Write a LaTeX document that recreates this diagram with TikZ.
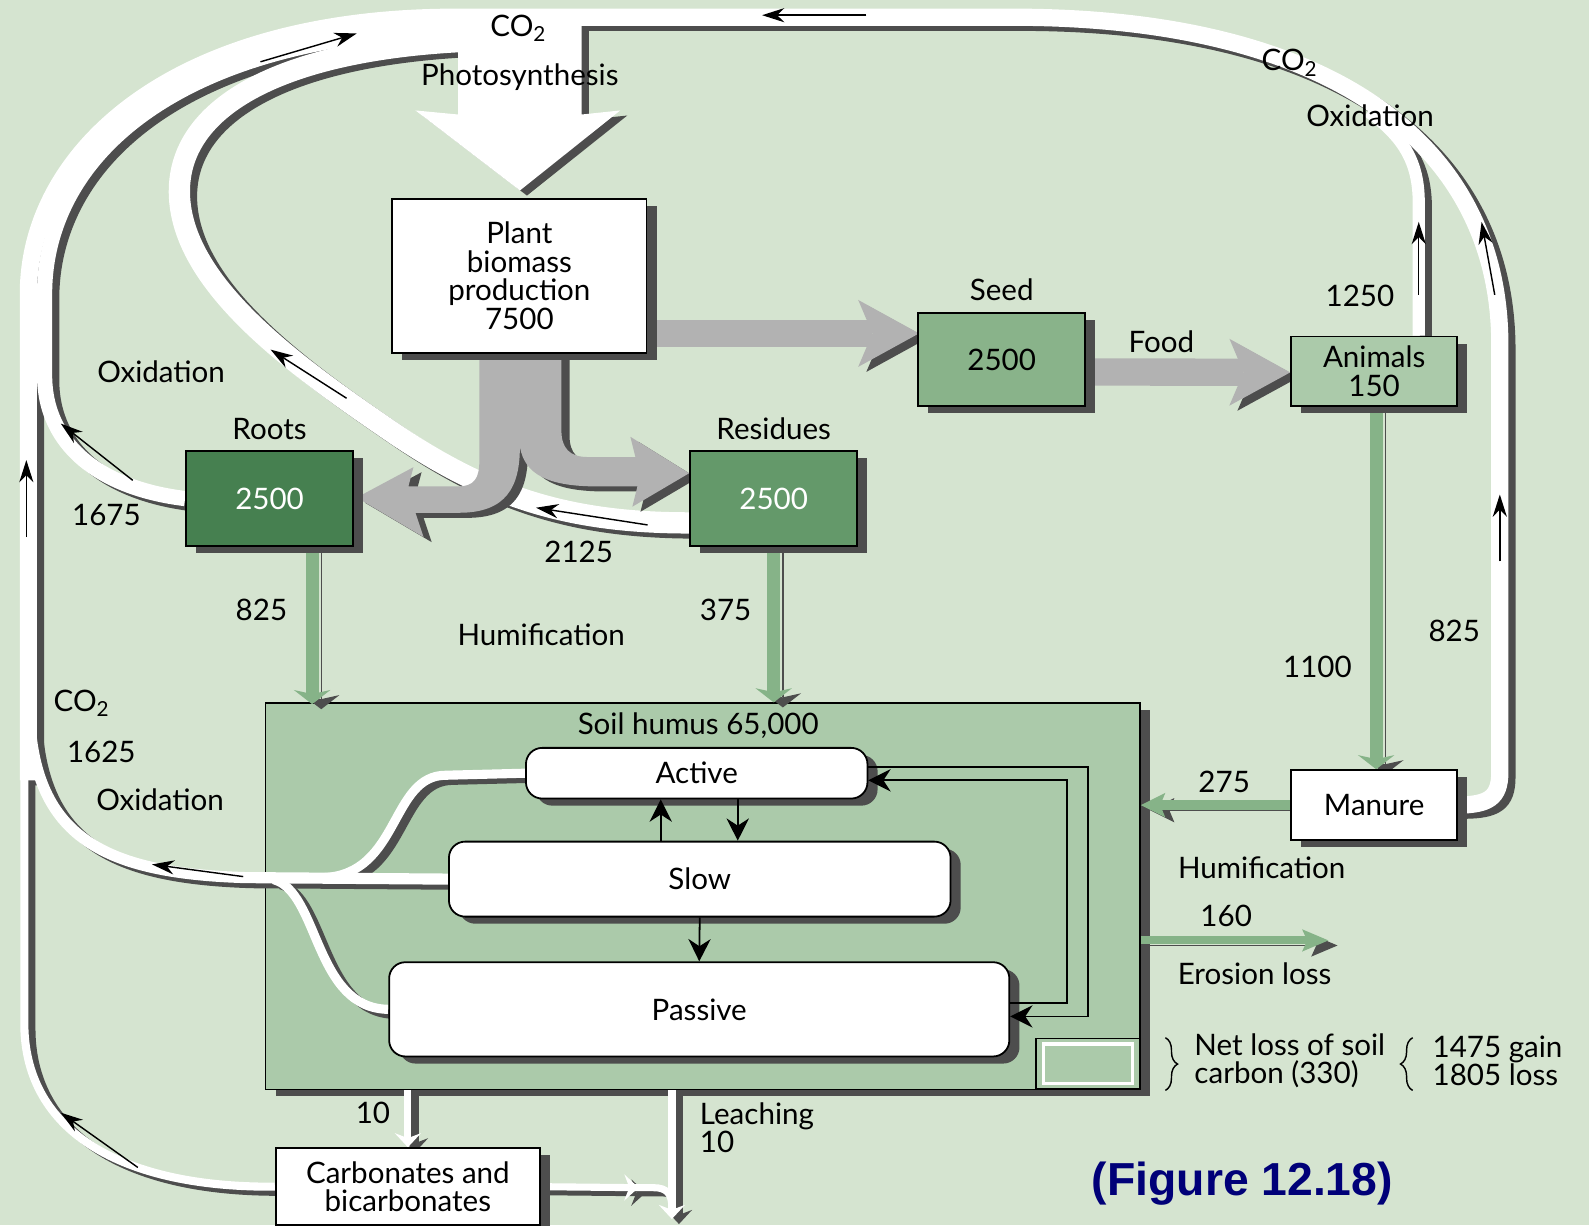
\documentclass[tikz,border=0pt]{standalone}
\usepackage{fontspec}
\setmainfont{Lato}
\newfontfamily\capfont{Liberation Sans}
\usetikzlibrary{arrows.meta}
\usetikzlibrary{positioning}
\usetikzlibrary{shadows}
\usetikzlibrary{decorations.pathreplacing}

\definecolor{bg}{RGB}{213,228,208}
\definecolor{darkedge}{RGB}{77,77,77}
\definecolor{flowgray}{RGB}{178,178,178}
\definecolor{rootgreen}{RGB}{70,128,80}
\definecolor{residgreen}{RGB}{100,153,106}
\definecolor{seedgreen}{RGB}{137,179,138}
\definecolor{palegreen}{RGB}{171,202,170}
\definecolor{humgreen}{RGB}{134,179,136}
\definecolor{navy}{RGB}{0,0,120}

\pgfdeclarelayer{back}
\pgfdeclarelayer{bands}
\pgfsetlayers{back,bands,main}

\tikzset{
  box/.style={draw=black, line width=0.5pt, inner sep=0pt, align=center},
  sbox/.style={box, drop shadow={shadow xshift=1mm, shadow yshift=-0.7mm, fill=darkedge, opacity=1}},
  pool/.style={sbox, fill=white, rounded corners=1.6mm},
  lbl/.style={inner sep=0pt},
  bandshade/.style={darkedge, transform canvas={shift={(0.7mm,-0.5mm)}}},
  bandwhite/.style={white},
  whitetip/.style={-{Stealth[length=1.4mm, width=2.6mm, inset=0.5mm, line width=0pt]}},
  grayflow/.style={fill=flowgray, preaction={fill=darkedge, transform canvas={shift={(0.8mm,-0.5mm)}}}},
  grayarrow/.style={draw=flowgray, line width=2.7mm,
    -{Stealth[length=6mm, width=6.6mm, inset=1.4mm, line width=0pt]},
    preaction={draw=darkedge, transform canvas={shift={(0.8mm,-0.5mm)}}}},
  hum/.style={draw=humgreen, line width=1.3mm,
    -{Stealth[length=1.4mm, width=3.6mm, inset=0.4mm, line width=0pt]},
    preaction={draw=darkedge, transform canvas={shift={(0.9mm,-0.5mm)}}}},
  flow/.style={line width=0.4pt, -{Stealth[length=2.2mm, width=1.4mm]}},
  poolflow/.style={line width=0.5pt, -{Stealth[length=2.2mm, width=2.2mm]}},
}

\begin{document}
\begin{tikzpicture}[x=0.1mm, y=-0.1mm,
    every node/.style={font=\fontsize{8.3}{8}\selectfont}]
  \useasboundingbox (0,0) rectangle (1568,1209);

  \begin{pgfonlayer}{back}
    \fill[bg] (0,0) rectangle (1568,1209);
    \node[sbox, fill=palegreen, minimum width=86.3mm, minimum height=38.1mm] (soil) at (693.5,884.5) {};
    \node[box, fill=palegreen, line width=0.4pt, minimum width=10.2mm, minimum height=5mm] (legend) at (1073.5,1049.5) {};
    \node[draw=white, line width=1pt, inner sep=0pt, minimum width=8.8mm, minimum height=3.9mm] (legendin) at (legend.center) {};
  \end{pgfonlayer}

  % pools and boxes
  \node[sbox, fill=white, minimum width=25.1mm, minimum height=15.2mm] (plant) at (512.5,272) {Plant\\biomass\\production\\7500};
  \node[sbox, fill=seedgreen, minimum width=16.5mm, minimum height=9.2mm] (seed) at (988.5,355) {2500};
  \node[sbox, fill=palegreen, minimum width=16.4mm, minimum height=6.9mm] (animals) at (1356,366.5) {Animals\\150};
  \node[sbox, fill=rootgreen, text=white, minimum width=16.5mm, minimum height=9.4mm] (roots) at (266,492) {2500};
  \node[sbox, fill=residgreen, text=white, minimum width=16.5mm, minimum height=9.4mm] (residues) at (763.5,492) {2500};
  \node[sbox, fill=white, minimum width=16.4mm, minimum height=6.9mm] (manure) at (1356,794.5) {Manure};
  \node[sbox, fill=white, minimum width=26.1mm, minimum height=7.6mm] (carb) at (402.5,1171) {Carbonates and\\bicarbonates};
  \node[pool, minimum width=33.7mm, minimum height=5mm] (active) at (687.5,763) {Active};
  \node[pool, minimum width=49.5mm, minimum height=7.4mm] (slow) at (690.5,867.5) {Slow};
  \node[pool, minimum width=61.2mm, minimum height=9.3mm] (passive) at (690,996) {Passive};

  \begin{pgfonlayer}{bands}
    \foreach \lay in {bandshade,bandwhite}{
      % outer loop: up the left, over the top, down to the manure
      \draw[\lay, line width=1.7mm] (28,770) -- (28,290)
        .. controls (28,150) and (170,17) .. (450,17) -- (1000,17)
        .. controls (1310,17) and (1480,140) .. (1480,340) -- (1480,762)
        .. controls (1480,788) and (1468,794) .. (manure.east);
      % roots
      \draw[\lay, line width=1.5mm] (roots.west) .. controls (100,482) and (44,440) .. (44,370)
        -- (44,290) .. controls (44,155) and (175,28) .. (480,28);
      % residues
      \draw[\lay, line width=2.1mm] ([yshift=-2.4mm]residues.west)
        .. controls (560,516) and (480,490) .. (385,425)
        .. controls (290,360) and (178,280) .. (177,190)
        .. controls (176,100) and (290,45) .. (480,40);
      % photosynthesis
      \fill[\lay] (452,24) -- (452,113) -- (410,109) -- (513,188) -- (612,109) -- (574,113) -- (574,24) -- cycle;
      % animals
      \draw[\lay, line width=1.2mm] ([xshift=4.4mm]animals.north) -- (1400,200)
        .. controls (1400,160) and (1385,135) .. (1350,110);
      % soil pools
      \draw[\lay, line width=1.1mm] (slow.west) -- (242,866) .. controls (110,862) and (40,830) .. (30,720);
      \draw[\lay, line width=0.9mm] (active.west) -- (440,765) .. controls (385,765) and (395,862) .. (320,866);
      \draw[\lay, line width=0.9mm] (passive.west) .. controls (310,995) and (315,880) .. (270,868);
      % carbonates and leaching
      \draw[\lay, line width=0.8mm] (24,760) -- (24,1010) .. controls (24,1110) and (110,1172) .. (carb.west);
      \draw[\lay, line width=0.7mm, whitetip] (carb.east) -- (630,1172);
      \draw[\lay, line width=0.7mm] (625,1172) -- (645,1172) .. controls (658,1172) and (663,1178) .. (663,1192);
      \draw[\lay, line width=0.8mm, whitetip] (soil.south) ++(-3.05mm,0) -- ++(0,127);
      \draw[\lay, line width=0.7mm, whitetip] (soil.south -| carb.north) -- (carb.north);
    }

    % plant flows
    \fill[grayflow] (473,348) -- (473,455) .. controls (473,472) and (468,480) .. (452,480) -- (403,480)
      -- (408,461) -- (352,491) -- (418,530) -- (410,506) -- (453,506)
      .. controls (500,506) and (513,480) .. (513,441)
      .. controls (518,468) and (540,480) .. (590,480) -- (629,480)
      -- (624,500) -- (680,467) -- (622,431) -- (627,451) -- (580,451)
      .. controls (562,451) and (554,442) .. (554,425) -- (554,348) -- cycle;
    \draw[grayarrow] ([yshift=-5.7mm]plant.east) -- ++(26.8mm,0);
    \draw[grayarrow] ([yshift=-1.2mm]seed.east) -- ([yshift=-0.1mm]animals.west);

    % humification
    \draw[hum] (roots.south) ++(4.2mm,0) -- ++(0,155);
    \draw[hum] (residues.south) -- (residues.south |- soil.north);
    \draw[hum] ([xshift=0.2mm]animals.south) -- ([xshift=0.2mm]manure.north);
    \draw[hum, line width=1mm, -{Stealth[length=2.4mm, width=2.4mm, inset=0.5mm, line width=0pt]}]
      (manure.west) -- (manure.west -| soil.east);
    \draw[hum, line width=0.8mm, -{Stealth[length=2.6mm, width=2.2mm, inset=0.5mm, line width=0pt]}]
      (soil.east |- 0,928) -- ++(185,0);
  \end{pgfonlayer}

  % directions on the bands
  \draw[flow] (855,15) -- (752,15);
  \draw[flow] (257,61) -- (352,33);
  \draw[flow] (342,393) -- (267,345);
  \draw[flow] (639,518) -- (529,501);
  \draw[flow] (131,474) -- (60,418);
  \draw[flow] (26,530) -- (26,454);
  \draw[flow] (136,1152) -- (60,1098);
  \draw[flow] (240,865) -- (150,853);
  \draw[flow] (1400,291) -- (1400,219);
  \draw[flow] (1475,291) -- (1462,219);
  \draw[flow] (1480,554) -- (1480,488);

  % between the pools
  \draw[poolflow] ([xshift=-3.85mm]slow.north) -- ([xshift=-3.55mm]active.south);
  \draw[poolflow] ([xshift=4.05mm]active.south) -- ([xshift=3.75mm]slow.north);
  \draw[poolflow] (slow.south) -- (passive.north);
  \draw[poolflow] ([yshift=0.6mm]active.east) -- ++(21.7mm,0) |- ([yshift=-0.7mm]passive.east);
  \draw[poolflow] ([yshift=0.6mm]passive.east) -- ++(5.6mm,0) |- ([yshift=-0.7mm]active.east);

  % labels
  \node[lbl] (co2top) at (512,28) {CO\textsubscript{2}};
  \node[lbl] (photo) at (513,76) {Photosynthesis};
  \node[lbl] (co2right) at (1273,62) {CO\textsubscript{2}};
  \node[lbl] (oxright) at (1352,114) {Oxidation};
  \node[lbl] (oxupper) at (159,367) {Oxidation};
  \node[lbl, above=0.9mm of roots] (rootslbl) {Roots};
  \node[lbl, above=0.9mm of residues] (residueslbl) {Residues};
  \node[lbl, above=1.1mm of seed] (seedlbl) {Seed};
  \node[lbl] (foodlbl) at (1146,337) {Food};
  \node[lbl] (n1250) at (1342,292) {1250};
  \node[lbl] (n1675) at (105,508) {1675};
  \node[lbl] (n2125) at (571,545) {2125};
  \node[lbl] (n825l) at (258,602) {825};
  \node[lbl] (n375) at (716,602) {375};
  \node[lbl] (humifl) at (534,626) {Humification};
  \node[lbl] (n825r) at (1435,623) {825};
  \node[lbl] (n1100) at (1300,658) {1100};
  \node[lbl] (co2left) at (81,694) {CO\textsubscript{2}};
  \node[lbl] (n1625) at (100,742) {1625};
  \node[lbl] (oxlower) at (158,789) {Oxidation};
  \node[lbl] (soillbl) at (689,716) {Soil humus 65,000};
  \node[lbl] (n275) at (1208,772) {275};
  \node[lbl] (humifr) at (1245,856) {Humification};
  \node[lbl] (n160) at (1210,904) {160};
  \node[lbl] (erosion) at (1238,961) {Erosion loss};
  \node[lbl] (n10carb) at (368,1098) {10};
  \node[lbl, anchor=west, align=left] (leach) at (690,1113) {Leaching\\10};
  \node[lbl, anchor=west, align=left] (netloss) at (1178,1047) {Net loss of soil\\carbon (330)};
  \node[lbl, anchor=west, align=left] (gainloss) at (1413,1047) {1475 gain\\1805 loss};
  \draw[line width=0.4pt, decorate, decoration={brace, amplitude=1.2mm}] (1150,1024) -- (1150,1076);
  \draw[line width=0.4pt, decorate, decoration={brace, amplitude=1.2mm}] (1394,1076) -- (1394,1024);
  \node[lbl, text=navy, font=\capfont\bfseries\fontsize{13}{15}\selectfont] (caption) at (1226,1168) {(Figure 12.18)};
\end{tikzpicture}
\end{document}
